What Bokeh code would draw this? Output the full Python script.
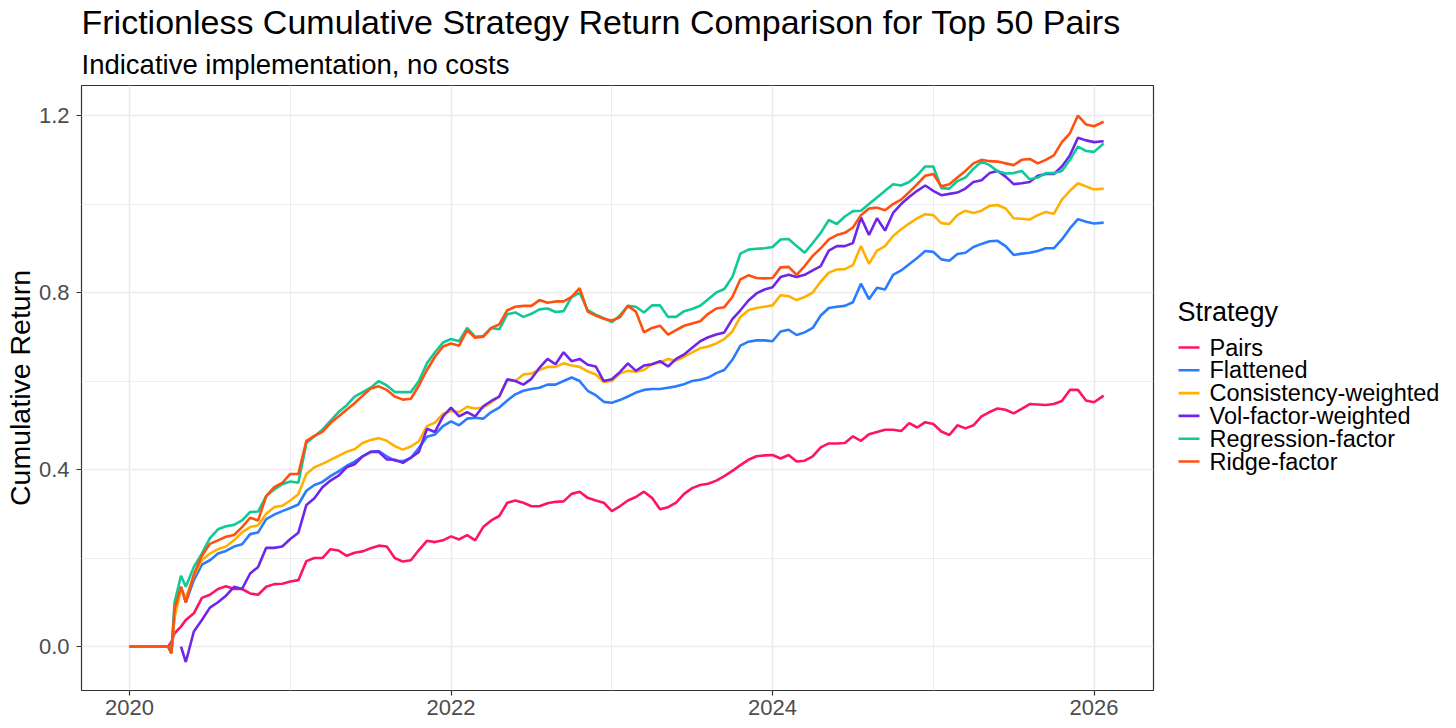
import math
from bokeh.plotting import figure
from bokeh.layouts import row
from bokeh.models import Title, FixedTicker, PrintfTickFormatter, ColumnDataSource
from bokeh.core.properties import value
from bokeh.embed import file_html
from bokeh.resources import INLINE

nan = float("nan")

# decimal-year dates (main readings)
dates = [2020.0, 2020.24, 2020.26, 2020.28, 2020.32, 2020.35, 2020.4,
         2020.5, 2020.6, 2020.7, 2020.8, 2020.9,
         2021.0, 2021.1, 2021.2, 2021.3, 2021.4, 2021.5, 2021.6, 2021.7, 2021.8, 2021.9,
         2022.0, 2022.1, 2022.2, 2022.3, 2022.4, 2022.5, 2022.6, 2022.7, 2022.8, 2022.9,
         2023.0, 2023.1, 2023.2, 2023.3, 2023.4, 2023.5, 2023.6, 2023.7, 2023.8, 2023.9,
         2024.0, 2024.1, 2024.2, 2024.3, 2024.4, 2024.5, 2024.6, 2024.7, 2024.8, 2024.9,
         2025.0, 2025.1, 2025.2, 2025.3, 2025.4, 2025.5, 2025.6, 2025.7, 2025.8, 2025.9,
         2026.0, 2026.06]

# in-between readings
dates_mid = [2020.45, 2020.55, 2020.65, 2020.75, 2020.85, 2020.95,
             2021.05, 2021.15, 2021.25, 2021.35, 2021.45, 2021.55, 2021.65, 2021.75, 2021.85, 2021.95,
             2022.05, 2022.15, 2022.25, 2022.35, 2022.45, 2022.55, 2022.65, 2022.75, 2022.85, 2022.95,
             2023.05, 2023.15, 2023.25, 2023.35, 2023.45, 2023.55, 2023.65, 2023.75, 2023.85, 2023.95,
             2024.05, 2024.15, 2024.25, 2024.35, 2024.45, 2024.55, 2024.65, 2024.75, 2024.85, 2024.95,
             2025.05, 2025.15, 2025.25, 2025.35, 2025.45, 2025.55, 2025.65, 2025.75, 2025.85, 2025.95]

pairs = [0, 0, 0.01, 0.03, 0.045, 0.06, 0.075,
         0.117, 0.136, 0.13, 0.117, 0.141,
         0.147, 0.193, 0.2, 0.217, 0.212, 0.222, 0.226, 0.192, 0.218, 0.236,
         0.249, 0.252, 0.27, 0.295, 0.33, 0.317, 0.324, 0.328, 0.35, 0.33,
         0.306, 0.33, 0.35, 0.31, 0.325, 0.358, 0.368, 0.385, 0.41, 0.43,
         0.433, 0.433, 0.42, 0.45, 0.459, 0.475, 0.48, 0.49, 0.487, 0.495,
         0.503, 0.478, 0.493, 0.52, 0.538, 0.527, 0.548, 0.546, 0.555, 0.58,
         0.552, 0.567]
pairs_mid = [0.11, 0.13, 0.13, 0.12, 0.135, 0.142,
             0.15, 0.2, 0.22, 0.205, 0.215, 0.228, 0.2, 0.195, 0.239, 0.24,
             0.242, 0.24, 0.285, 0.325, 0.325, 0.317, 0.327, 0.345, 0.336, 0.325,
             0.317, 0.338, 0.336, 0.315, 0.345, 0.365, 0.375, 0.397, 0.422, 0.432,
             0.425, 0.418, 0.43, 0.459, 0.46, 0.465, 0.485, 0.49, 0.505, 0.507,
             0.486, 0.5, 0.5, 0.53, 0.535, 0.537, 0.547, 0.548, 0.58, 0.556]

flattened = [0, 0, -0.015, 0.075, 0.135, 0.1, 0.15,
             0.195, 0.216, 0.231, 0.258, 0.298,
             0.313, 0.352, 0.372, 0.396, 0.418, 0.44, 0.43, 0.419, 0.449, 0.479,
             0.509, 0.515, 0.515, 0.54, 0.57, 0.582, 0.592, 0.6, 0.6, 0.568,
             0.551, 0.565, 0.58, 0.582, 0.588, 0.6, 0.608, 0.625, 0.68, 0.692,
             0.69, 0.716, 0.71, 0.748, 0.768, 0.778, 0.785, 0.807, 0.85, 0.878,
             0.892, 0.872, 0.89, 0.91, 0.917, 0.885, 0.89, 0.9, 0.92, 0.966,
             0.956, 0.958]
flattened_mid = [0.185, 0.21, 0.226, 0.254, 0.288, 0.306,
                 0.321, 0.365, 0.385, 0.408, 0.43, 0.442, 0.42, 0.426, 0.474, 0.498,
                 0.5, 0.517, 0.53, 0.556, 0.578, 0.585, 0.592, 0.608, 0.578, 0.553,
                 0.557, 0.574, 0.582, 0.585, 0.593, 0.603, 0.618, 0.648, 0.689, 0.692,
                 0.712, 0.704, 0.72, 0.765, 0.77, 0.82, 0.811, 0.84, 0.864, 0.894,
                 0.875, 0.887, 0.903, 0.916, 0.905, 0.888, 0.894, 0.9, 0.945, 0.96]

consistency = [0, 0, -0.015, 0.065, 0.13, 0.11, 0.16,
               0.21, 0.226, 0.258, 0.274, 0.315,
               0.33, 0.39, 0.413, 0.431, 0.446, 0.467, 0.465, 0.445, 0.464, 0.506,
               0.532, 0.542, 0.54, 0.565, 0.6, 0.617, 0.632, 0.64, 0.632, 0.615,
               0.6, 0.623, 0.625, 0.642, 0.646, 0.665, 0.678, 0.695, 0.745, 0.765,
               0.771, 0.792, 0.79, 0.825, 0.852, 0.862, 0.865, 0.905, 0.943, 0.968,
               0.975, 0.955, 0.985, 0.985, 0.998, 0.968, 0.965, 0.982, 1.01, 1.047,
               1.033, 1.035]
consistency_mid = [0.195, 0.22, 0.24, 0.27, 0.3, 0.318,
                   0.344, 0.405, 0.422, 0.44, 0.46, 0.471, 0.453, 0.452, 0.498, 0.526,
                   0.53, 0.538, 0.552, 0.602, 0.615, 0.625, 0.632, 0.635, 0.622, 0.598,
                   0.617, 0.621, 0.638, 0.65, 0.655, 0.674, 0.685, 0.712, 0.76, 0.768,
                   0.794, 0.783, 0.8, 0.845, 0.853, 0.905, 0.895, 0.928, 0.956, 0.977,
                   0.957, 0.975, 0.98, 0.996, 0.99, 0.967, 0.975, 0.978, 1.03, 1.04]

volfactor = [nan, nan, nan, nan, 0.0, -0.035, 0.034,
             0.088, 0.115, 0.13, 0.18, 0.223,
             0.243, 0.32, 0.36, 0.386, 0.412, 0.44, 0.423, 0.415, 0.44, 0.485,
             0.54, 0.53, 0.543, 0.565, 0.6, 0.605, 0.65, 0.665, 0.65, 0.633,
             0.604, 0.64, 0.635, 0.645, 0.65, 0.675, 0.699, 0.71, 0.76, 0.798,
             0.812, 0.84, 0.84, 0.86, 0.905, 0.912, 0.93, 0.94, 1.0, 1.03,
             1.03, 1.023, 1.035, 1.054, 1.075, 1.045, 1.05, 1.068, 1.085, 1.15,
             1.14, 1.142]
volfactor_mid = [0.06, 0.1, 0.135, 0.165, 0.223, 0.226,
                 0.257, 0.335, 0.375, 0.405, 0.43, 0.44, 0.422, 0.427, 0.492, 0.52,
                 0.52, 0.52, 0.555, 0.604, 0.592, 0.63, 0.638, 0.645, 0.637, 0.6,
                 0.62, 0.623, 0.638, 0.633, 0.66, 0.69, 0.705, 0.74, 0.782, 0.807,
                 0.835, 0.835, 0.85, 0.895, 0.905, 0.97, 0.968, 0.98, 1.016, 1.042,
                 1.02, 1.026, 1.05, 1.07, 1.062, 1.047, 1.064, 1.068, 1.11, 1.144]

regression = [0, 0, -0.015, 0.1, 0.16, 0.135, 0.18,
              0.245, 0.272, 0.285, 0.305, 0.355,
              0.373, 0.46, 0.49, 0.53, 0.565, 0.585, 0.59, 0.575, 0.6, 0.665,
              0.695, 0.72, 0.702, 0.717, 0.755, 0.752, 0.764, 0.758, 0.8, 0.75,
              0.733, 0.77, 0.755, 0.771, 0.745, 0.763, 0.785, 0.808, 0.888, 0.899,
              0.903, 0.921, 0.89, 0.935, 0.955, 0.984, 1.0, 1.03, 1.042, 1.065,
              1.085, 1.035, 1.06, 1.096, 1.074, 1.07, 1.056, 1.07, 1.075, 1.13,
              1.118, 1.137]
regression_mid = [0.21, 0.265, 0.275, 0.304, 0.34, 0.367,
                  0.37, 0.475, 0.51, 0.545, 0.575, 0.6, 0.575, 0.575, 0.64, 0.687,
                  0.69, 0.7, 0.72, 0.751, 0.745, 0.762, 0.756, 0.79, 0.76, 0.742,
                  0.748, 0.768, 0.771, 0.745, 0.758, 0.77, 0.8, 0.835, 0.897, 0.9,
                  0.92, 0.905, 0.912, 0.964, 0.972, 0.985, 1.015, 1.045, 1.05, 1.085,
                  1.036, 1.052, 1.08, 1.088, 1.069, 1.075, 1.06, 1.07, 1.1, 1.12]

ridge = [0, 0, -0.015, 0.085, 0.135, 0.1, 0.163,
         0.232, 0.248, 0.27, 0.285, 0.36,
         0.39, 0.465, 0.485, 0.52, 0.55, 0.583, 0.58, 0.558, 0.59, 0.655,
         0.685, 0.715, 0.7, 0.728, 0.768, 0.77, 0.777, 0.78, 0.81, 0.748,
         0.737, 0.77, 0.71, 0.725, 0.715, 0.73, 0.752, 0.767, 0.83, 0.833,
         0.833, 0.858, 0.86, 0.9, 0.93, 0.947, 0.99, 0.986, 1.01, 1.045,
         1.068, 1.045, 1.075, 1.1, 1.096, 1.088, 1.102, 1.1, 1.14, 1.2,
         1.176, 1.186]
ridge_mid = [0.205, 0.24, 0.252, 0.291, 0.34, 0.37,
             0.39, 0.476, 0.505, 0.535, 0.567, 0.588, 0.565, 0.56, 0.625, 0.678,
             0.68, 0.698, 0.72, 0.76, 0.77, 0.783, 0.78, 0.79, 0.757, 0.741,
             0.744, 0.757, 0.72, 0.705, 0.725, 0.735, 0.764, 0.79, 0.839, 0.832,
             0.857, 0.84, 0.883, 0.92, 0.935, 0.975, 0.992, 1.0, 1.027, 1.064,
             1.04, 1.06, 1.092, 1.097, 1.092, 1.1, 1.092, 1.11, 1.16, 1.18]

strategies = ["Pairs", "Flattened", "Consistency-weighted", "Vol-factor-weighted",
              "Regression-factor", "Ridge-factor"]
series = [(pairs, pairs_mid), (flattened, flattened_mid), (consistency, consistency_mid),
          (volfactor, volfactor_mid), (regression, regression_mid), (ridge, ridge_mid)]
colors = ["#FF1464", "#2B7BFF", "#FFB000", "#7026E8", "#10C996", "#FF5010"]

x_ticks = [2020, 2022, 2024, 2026]
x_minor = [2021, 2023, 2025]
y_ticks = [0.0, 0.4, 0.8, 1.2]
y_minor = [0.2, 0.6, 1.0]

FONT = "Liberation Sans"
BORDER_TOP = 77
BORDER_BOTTOM = 36
FRAME_H = 605

p = figure(frame_width=1072, frame_height=FRAME_H,
           x_range=(2019.701, 2026.370), y_range=(-0.0994, 1.268),
           output_backend="svg", toolbar_location=None,
           min_border_left=10, min_border_right=5, min_border_top=5,
           min_border_bottom=BORDER_BOTTOM,
           background_fill_color="white", border_fill_color="white")
p.title.visible = False

p.add_layout(Title(text="Indicative implementation, no costs", text_font=FONT,
                   text_font_size="27.5px", text_font_style="normal", text_color="black",
                   align="left", standoff=12), "above")
p.add_layout(Title(text="Frictionless Cumulative Strategy Return Comparison for Top 50 Pairs",
                   text_font=FONT, text_font_size="34px", text_font_style="normal",
                   text_color="black", align="left", standoff=0), "above")

p.outline_line_color = "#333333"
p.outline_line_width = 1.2

for ax in (p.xaxis[0], p.yaxis[0]):
    ax.axis_line_color = None
    ax.major_tick_line_color = "#333333"
    ax.major_tick_line_width = 1.2
    ax.major_tick_out = 5
    ax.major_tick_in = 0
    ax.minor_tick_line_color = None
    ax.major_label_text_font = FONT
    ax.major_label_text_font_size = "22px"
    ax.major_label_text_color = "#4D4D4D"
    ax.axis_label_text_font = FONT
    ax.axis_label_text_font_style = "normal"
    ax.axis_label_text_color = "black"

p.xaxis[0].ticker = FixedTicker(ticks=x_ticks, minor_ticks=x_minor)
p.yaxis[0].ticker = FixedTicker(ticks=y_ticks, minor_ticks=y_minor)
p.xaxis[0].formatter = PrintfTickFormatter(format="%d")
p.yaxis[0].formatter = PrintfTickFormatter(format="%.1f")
p.xaxis[0].major_label_standoff = 4
p.yaxis[0].major_label_standoff = 7
p.yaxis[0].axis_label = "Cumulative Return"
p.yaxis[0].axis_label_text_font_size = "28.5px"
p.yaxis[0].axis_label_standoff = 0

for g in (p.xgrid[0], p.ygrid[0]):
    g.grid_line_color = "#EBEBEB"
    g.grid_line_width = 1.6
    g.minor_grid_line_color = "#EBEBEB"
    g.minor_grid_line_width = 0.9

for name, (vals, vals_mid), col in zip(strategies, series, colors):
    pts = sorted(list(zip(dates, vals)) + list(zip(dates_mid, vals_mid)))
    src = ColumnDataSource(dict(date=[d for d, _ in pts], value=[v for _, v in pts]))
    p.line("date", "value", source=src, line_color=col, line_width=2.6)

# ---- legend panel: frame aligned with the plot frame, pixel units, y downward ----
LEG_W = 290
leg = figure(frame_width=LEG_W, frame_height=FRAME_H,
             x_range=(0, LEG_W), y_range=(FRAME_H, 0),
             x_axis_type=None, y_axis_type=None, output_backend="svg",
             toolbar_location=None, min_border_left=0, min_border_right=0,
             min_border_top=BORDER_TOP, min_border_bottom=BORDER_BOTTOM,
             background_fill_color="white", border_fill_color="white")
leg.outline_line_color = None
leg.grid.visible = False

title_y = 226          # measured from the top of the plot frame
row_y0 = 262
row_h = 22.8
ys = [row_y0 + i * row_h for i in range(len(strategies))]

leg.text(x=[19], y=[title_y], text=["Strategy"], text_font=value(FONT),
         text_font_size="27px", text_color="black", text_baseline="middle", text_align="left")
leg.segment(x0=[20] * len(ys), x1=[41] * len(ys), y0=ys, y1=ys,
            line_color=colors, line_width=2.6)
leg.text(x=[51] * len(ys), y=ys, text=strategies, text_font=value(FONT),
         text_font_size="23.5px", text_color="black", text_baseline="middle", text_align="left")

layout = row(p, leg)
open("out.html", "w").write(file_html(layout, INLINE))
